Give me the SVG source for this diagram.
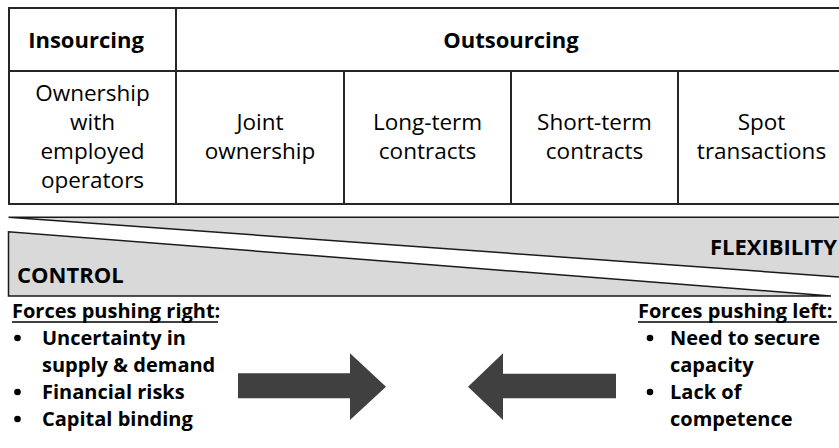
<svg xmlns="http://www.w3.org/2000/svg" width="839" height="448" viewBox="0 0 839 448">
  <style>
    .cell { fill: #ffffff; stroke: #262626; stroke-width: 2; }
    .hdr { font-family: "Open Sans", "Liberation Sans", sans-serif; font-weight: bold; font-size: 22px; fill: #000; text-anchor: middle; }
    .txt { font-family: "Open Sans", "Liberation Sans", sans-serif; font-size: 22.5px; fill: #000; text-anchor: middle; }
    .big { font-family: "Open Sans", "Liberation Sans", sans-serif; font-weight: bold; font-size: 22px; fill: #000; }
    .frc { font-family: "Open Sans", "Liberation Sans", sans-serif; font-weight: bold; font-size: 20px; fill: #000; }
    .wedge { fill: #d9d9d9; stroke: #1a1a1a; stroke-width: 1.5; stroke-linejoin: miter; }
    .arrow { fill: #404040; stroke: none; }
    .ul { stroke: #000; stroke-width: 1.6; }
    .dot { fill: #000; }
  </style>

  <g id="table">
    <g id="cell-insourcing">
      <rect class="cell" x="9" y="8" width="167" height="63"/>
      <text class="hdr" x="86" y="48">Insourcing</text>
    </g>
    <g id="cell-outsourcing">
      <rect class="cell" x="176" y="8" width="680" height="63"/>
      <text class="hdr" x="511" y="48">Outsourcing</text>
    </g>
    <g id="cell-ownership">
      <rect class="cell" x="9" y="71" width="167" height="133"/>
      <text class="txt" x="92.5" y="101">Ownership</text>
      <text class="txt" x="92.5" y="130">with</text>
      <text class="txt" x="92.5" y="159">employed</text>
      <text class="txt" x="92.5" y="188">operators</text>
    </g>
    <g id="cell-joint">
      <rect class="cell" x="176" y="71" width="168" height="133"/>
      <text class="txt" x="260" y="130">Joint</text>
      <text class="txt" x="260" y="159">ownership</text>
    </g>
    <g id="cell-longterm">
      <rect class="cell" x="344" y="71" width="167" height="133"/>
      <text class="txt" x="427.5" y="130">Long-term</text>
      <text class="txt" x="427.5" y="159">contracts</text>
    </g>
    <g id="cell-shortterm">
      <rect class="cell" x="511" y="71" width="167" height="133"/>
      <text class="txt" x="594.5" y="130">Short-term</text>
      <text class="txt" x="594.5" y="159">contracts</text>
    </g>
    <g id="cell-spot">
      <rect class="cell" x="678" y="71" width="178" height="133"/>
      <text class="txt" x="761.5" y="130">Spot</text>
      <text class="txt" x="761.5" y="159">transactions</text>
    </g>
  </g>

  <g id="flexibility">
    <polygon class="wedge" points="8.5,217.3 860,217.3 860,278.5"/>
    <text class="big" x="837" y="255" text-anchor="end">FLEXIBILITY</text>
  </g>
  <g id="control">
    <polygon class="wedge" points="8.5,231.7 8.5,296 831,296"/>
    <text class="big" x="17" y="283">CONTROL</text>
  </g>

  <g id="forces-right">
    <text class="frc" x="12" y="318">Forces pushing right:</text>
    <line class="ul" x1="12" y1="322" x2="218" y2="322"/>
    <circle class="dot" cx="17.5" cy="338" r="3.3"/>
    <text class="frc" x="42" y="345">Uncertainty in</text>
    <text class="frc" x="42" y="372">supply &amp; demand</text>
    <circle class="dot" cx="17.5" cy="392" r="3.3"/>
    <text class="frc" x="42" y="399">Financial risks</text>
    <circle class="dot" cx="17.5" cy="419" r="3.3"/>
    <text class="frc" x="42" y="426">Capital binding</text>
  </g>

  <g id="forces-left">
    <text class="frc" x="638" y="318">Forces pushing left:</text>
    <line class="ul" x1="638" y1="322" x2="837" y2="322"/>
    <circle class="dot" cx="650" cy="338" r="3.3"/>
    <text class="frc" x="670" y="345">Need to secure</text>
    <text class="frc" x="670" y="372">capacity</text>
    <circle class="dot" cx="650" cy="392" r="3.3"/>
    <text class="frc" x="670" y="399">Lack of</text>
    <text class="frc" x="670" y="426">competence</text>
  </g>

  <g id="connectors">
    <polygon class="arrow" points="238,373.3 350,373.3 350,353.3 386,386.7 350,420 350,398.3 238,398.3"/>
    <polygon class="arrow" points="616,373.8 503,373.8 503,353.3 468,386.7 503,420 503,398.3 616,398.3"/>
  </g>
</svg>
